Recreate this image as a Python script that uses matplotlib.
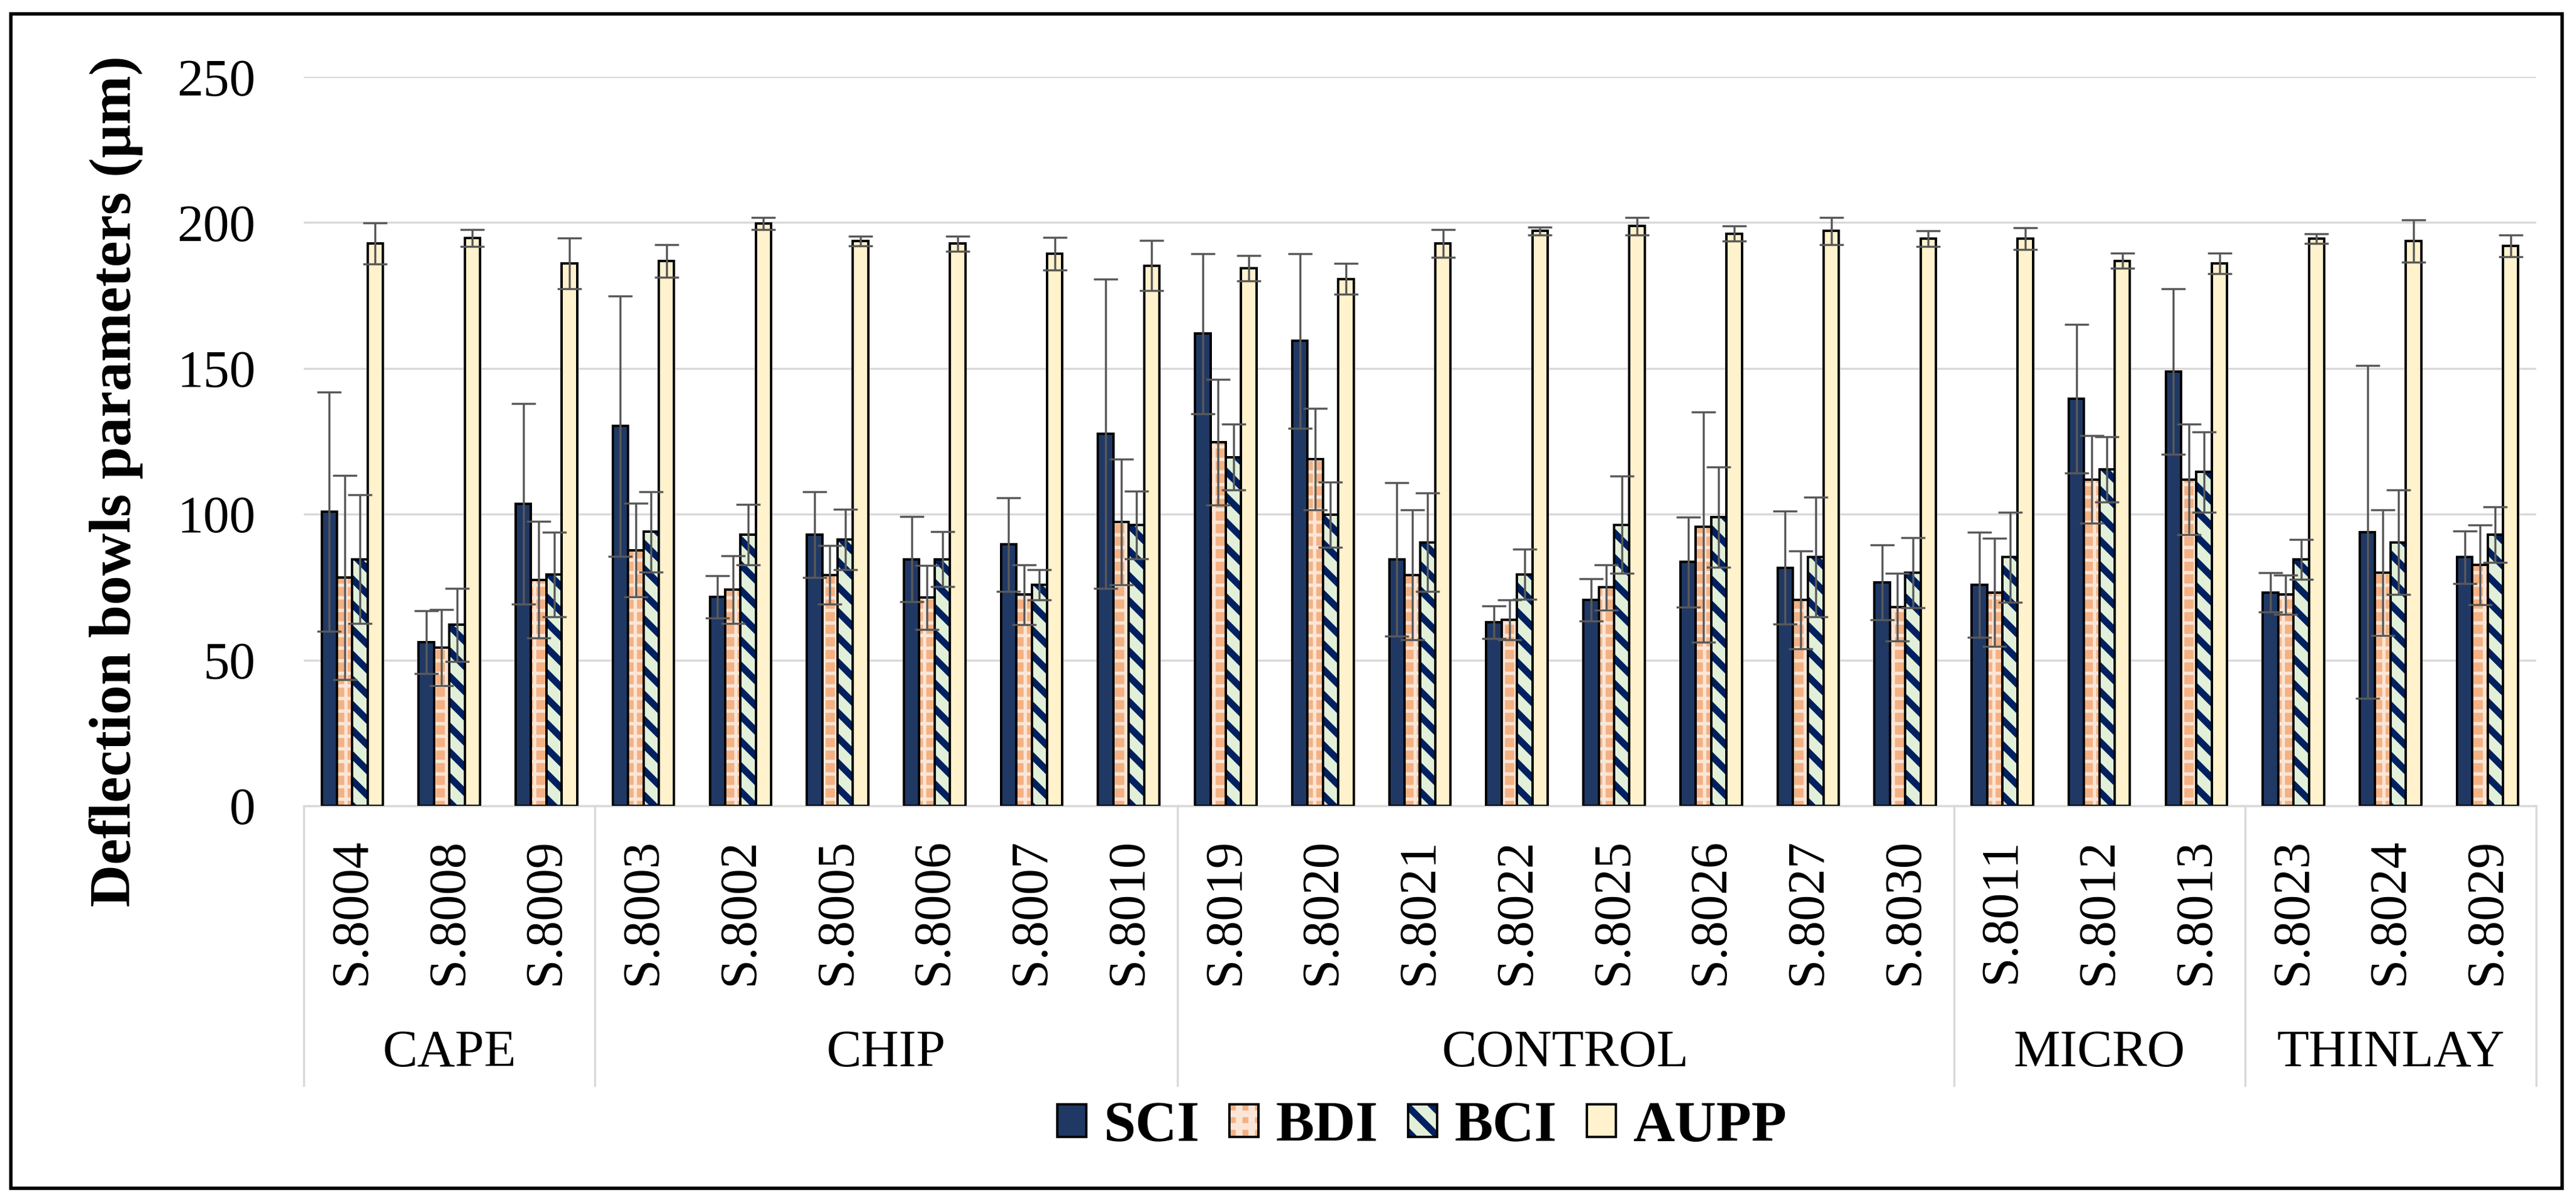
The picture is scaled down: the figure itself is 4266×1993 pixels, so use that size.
import matplotlib
matplotlib.use("Agg")
import matplotlib.pyplot as plt
import numpy as np
from matplotlib.patches import Rectangle, Patch

plt.rcParams['font.family'] = ['Liberation Serif', 'DejaVu Serif']
plt.rcParams['hatch.linewidth'] = 3.2

# ---------------- data ----------------
categories = ['S.8004', 'S.8008', 'S.8009',
              'S.8003', 'S.8002', 'S.8005', 'S.8006', 'S.8007', 'S.8010',
              'S.8019', 'S.8020', 'S.8021', 'S.8022', 'S.8025', 'S.8026', 'S.8027', 'S.8030',
              'S.8011', 'S.8012', 'S.8013',
              'S.8023', 'S.8024', 'S.8029']
groups = ['CAPE', 'CHIP', 'CONTROL', 'MICRO', 'THINLAY']
group_sizes = [3, 6, 8, 3, 3]

series_names = ['SCI', 'BDI', 'BCI', 'AUPP']

SCI = [100.9, 56.1, 103.6, 130.2, 71.7, 93.0, 84.6, 89.6, 127.6, 161.9, 159.4, 84.6,
       63.0, 70.6, 83.6, 81.7, 76.6, 75.8, 139.6, 149.0, 73.2, 93.9, 85.3]
SCI_err = [41.0, 10.8, 34.4, 44.7, 7.3, 14.7, 14.6, 16.0, 53.0, 27.5, 30.0, 26.3,
           5.6, 7.3, 15.4, 19.4, 12.9, 18.0, 25.5, 28.4, 6.8, 57.0, 9.0]

BDI = [78.3, 54.3, 77.5, 87.7, 74.1, 79.2, 71.5, 72.4, 97.3, 124.7, 118.8, 79.2,
       63.8, 74.9, 95.6, 70.6, 68.1, 73.2, 111.9, 111.9, 72.4, 80.0, 82.6]
BDI_err = [35.0, 13.0, 20.0, 16.0, 11.6, 10.0, 11.0, 10.3, 21.5, 21.5, 17.4, 22.3,
           6.9, 7.7, 39.5, 16.8, 11.6, 18.5, 15.0, 19.0, 6.8, 21.5, 13.7]

BCI = [84.6, 62.1, 79.4, 94.0, 93.0, 91.3, 84.6, 75.8, 96.4, 119.6, 99.8, 90.4,
       79.4, 96.4, 99.0, 85.3, 80.0, 85.3, 115.4, 114.5, 84.5, 90.4, 93.0]
BCI_err = [22.0, 12.5, 14.5, 13.8, 10.4, 10.3, 9.5, 5.1, 11.6, 11.2, 11.2, 16.8,
           8.6, 16.7, 17.2, 20.5, 12.0, 15.4, 11.2, 13.8, 6.9, 18.0, 9.5]

AUPP = [192.8, 194.7, 186.0, 186.9, 199.7, 193.7, 192.8, 189.4, 185.2, 184.3, 180.7, 192.8,
        197.1, 198.8, 196.2, 197.1, 194.5, 194.5, 186.9, 186.0, 194.5, 193.7, 192.0]
AUPP_err = [7.0, 3.0, 8.6, 5.6, 2.0, 1.7, 2.6, 5.6, 8.6, 4.3, 5.2, 4.7,
            1.3, 3.0, 2.6, 4.7, 2.6, 3.8, 2.6, 3.5, 1.7, 7.3, 3.8]

y_ticks = [0, 50, 100, 150, 200, 250]
y_label = 'Deflection bowls parameters (\u03bcm)'

# ---------------- styles ----------------
values = [SCI, BDI, BCI, AUPP]
errors = [SCI_err, BDI_err, BCI_err, AUPP_err]
faces = ['#203864', '#F4B183', '#E2F0D9', '#FFF2CC']
hatches = [None, '++', '\\\\', None]
hatch_cols = [None, '#FBE5D6', '#002060', None]
hatch_lws = [None, 1.6, 3.2, None]

W, H, DPI = 4266, 1993, 250
fig = plt.figure(figsize=(W / DPI, H / DPI), dpi=DPI)

ax_l, ax_r, ax_t, ax_b = 503, 4200, 127, 1334
ax = fig.add_axes([ax_l / W, 1 - ax_b / H, (ax_r - ax_l) / W, (ax_b - ax_t) / H])

x = np.arange(len(categories))
bw = 0.158
offsets = (np.arange(4) - 1.5) * bw
edge_lw = 1.15

legend_handles = []
for k in range(4):
    xs = x + offsets[k]
    if hatches[k] is None:
        ax.bar(xs, values[k], bw, color=faces[k], edgecolor='black',
               linewidth=edge_lw, zorder=3)
        legend_handles.append(Patch(facecolor=faces[k], edgecolor='black', linewidth=edge_lw))
    else:
        with plt.rc_context({'hatch.linewidth': hatch_lws[k]}):
            hb = ax.bar(xs, values[k], bw, color=faces[k], edgecolor=hatch_cols[k],
                        hatch=hatches[k], linewidth=0, zorder=3)
            ph = Patch(facecolor=faces[k], edgecolor=hatch_cols[k], hatch=hatches[k], linewidth=0)
        for p in list(hb) + [ph]:
            if hasattr(p, 'set_hatch_linewidth'):
                p.set_hatch_linewidth(hatch_lws[k])
        ax.bar(xs, values[k], bw, fill=False, edgecolor='black', linewidth=edge_lw, zorder=3.5)
        po = Patch(fill=False, edgecolor='black', linewidth=edge_lw)
        legend_handles.append((ph, po))
    ax.errorbar(xs, values[k], yerr=errors[k], fmt='none', ecolor='#595959',
                elinewidth=1.0, capsize=5.8, capthick=1.0, zorder=4)

ax.set_xlim(-0.5, len(categories) - 0.5)
ax.set_ylim(0, 250)
ax.set_yticks(y_ticks)
ax.set_yticklabels([str(v) for v in y_ticks], fontsize=25)
ax.tick_params(axis='y', length=0, pad=23)
ax.yaxis.grid(True, color='#D9D9D9', linewidth=1.0, zorder=0)
ax.set_axisbelow(True)

ax.set_xticks(x)
ax.set_xticklabels(categories, rotation=90, fontsize=25, va='top', ha='center')
ax.tick_params(axis='x', length=0, pad=15.5)

for s in ['top', 'right', 'left']:
    ax.spines[s].set_visible(False)
ax.spines['bottom'].set_color('#D9D9D9')
ax.spines['bottom'].set_linewidth(1.0)
ax.spines['bottom'].set_zorder(2)

# group separators and group labels
trans = ax.get_xaxis_transform()
axh = ax_b - ax_t
sep_bottom = (ax_b - 1797) / axh
lab_y = (ax_b - 1744) / axh
bounds = np.concatenate([[0], np.cumsum(group_sizes)]) - 0.5
for b in bounds:
    ax.plot([b, b], [0, sep_bottom], transform=trans, color='#D9D9D9',
            linewidth=1.0, clip_on=False, zorder=1)
for g, lo, hi in zip(groups, bounds[:-1], bounds[1:]):
    ax.text((lo + hi) / 2, lab_y, g, transform=trans, ha='center', va='center',
            fontsize=25)

# y label
fig.text(192 / W, 1 - 797 / H, y_label, rotation=90, ha='center', va='center',
         fontsize=28, fontweight='bold')

# legend
leg = fig.legend(legend_handles, series_names, loc='center', ncol=4,
                 bbox_to_anchor=(2355 / W, 1 - 1866 / H), frameon=False,
                 prop={'weight': 'bold', 'size': 27.5},
                 handlelength=0.5, handleheight=0.5, handletextpad=0.3,
                 columnspacing=0.52, borderpad=0.1)

# outer frame
fig.patches.append(Rectangle((18 / W, 1 - 1967 / H), (4243 - 18) / W, (1967 - 23) / H,
                             transform=fig.transFigure, fill=False, edgecolor='black',
                             linewidth=1.6, zorder=10))

fig.savefig('out.png', dpi=DPI)
